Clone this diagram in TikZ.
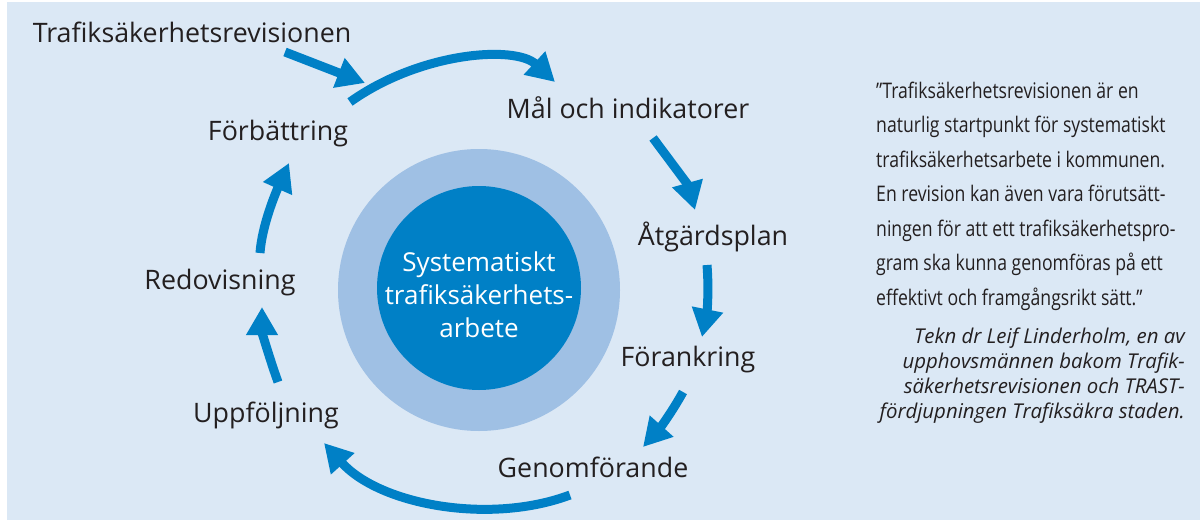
\documentclass[tikz,border=0pt]{standalone}
\usepackage{fontspec}
\setmainfont{Open Sans}
\newfontfamily\condfont[FakeStretch=0.82]{Open Sans}
\usetikzlibrary{arrows.meta}
\definecolor{bg}{HTML}{DBE8F5}
\definecolor{ring}{HTML}{9FC0E4}
\definecolor{core}{HTML}{0080C6}
\definecolor{arr}{HTML}{0080C6}
\definecolor{txt}{HTML}{231F20}
\begin{document}
\begin{tikzpicture}[x=1pt,y=-1pt,
  lbl/.style={font=\fontsize{26.8}{32}\selectfont, text=txt, inner sep=0pt},
  flow/.style={draw=arr, line width=9pt, -{Triangle[length=28pt,width=30pt]}},
  quotetext/.style={font=\condfont\fontsize{21.5}{34.5}\selectfont, text=txt, anchor=west, align=left, inner sep=0pt},
  attrtext/.style={font=\itshape\fontsize{20.4}{25}\selectfont, text=txt, anchor=east, align=right, inner sep=0pt}]
\useasboundingbox (0,0) rectangle (1200,522);
\fill[bg] (7,2) rectangle (1200,520);
% circles
\fill[ring] (479,290) circle (141);
\node[circle, fill=core, minimum size=204pt, inner sep=0pt] (core) at (479,288) {};
\node[font=\fontsize{26}{33}\selectfont, text=white, align=center, inner sep=0pt] (coretext) at (479,295)
  {Systematiskt\\trafiksäkerhets-\\arbete};
% labels
\node[lbl] (trafik) at (192,32) {Trafiksäkerhetsrevisionen};
\node[lbl] (mal) at (628,108) {Mål och indikatorer};
\node[lbl] (atg) at (713,237) {Åtgärdsplan};
\node[lbl] (foran) at (688,360) {Förankring};
\node[lbl] (genom) at (593,467) {Genomförande};
\node[lbl] (uppf) at (266,415) {Uppföljning};
\node[lbl] (redov) at (220,283) {Redovisning};
\node[lbl] (forb) at (278,134) {Förbättring};
% arrow end points
\coordinate (a1s) at (285,52);  \coordinate (a1e) at (365,83);
\coordinate (a2s) at (350,102); \coordinate (a2e) at (555,82);
\coordinate (a3s) at (653,138); \coordinate (a3e) at (695,210);
\coordinate (a4s) at (707,265); \coordinate (a4e) at (702,337);
\coordinate (a5s) at (683,392); \coordinate (a5e) at (643,447);
\coordinate (a6s) at (570,495); \coordinate (a6e) at (324,443);
\coordinate (a7s) at (278,382); \coordinate (a7e) at (262,307);
\coordinate (a8s) at (260,253); \coordinate (a8e) at (289,163);
\draw[flow] (a1s) -- (a1e);
\draw[flow] (a2s) .. controls (420,52) and (515,45) .. (a2e);
\draw[flow] (a3s) .. controls (668,158) and (688,185) .. (a3e);
\draw[flow] (a4s) .. controls (709,290) and (707,312) .. (a4e);
\draw[flow] (a5s) .. controls (672,412) and (660,428) .. (a5e);
\draw[flow] (a6s) .. controls (490,525) and (380,505) .. (a6e);
\draw[flow] (a7s) .. controls (270,360) and (262,332) .. (a7e);
\draw[flow] (a8s) .. controls (262,225) and (276,192) .. (a8e);
% quote
\node[quotetext] (quote) at (876,196)
  {”Trafiksäkerhetsrevisionen är en\\
   naturlig startpunkt för systematiskt\\
   trafiksäkerhetsarbete i kommunen.\\
   En revision kan även vara förutsätt-\\
   ningen för att ett trafiksäkerhetspro-\\
   gram ska kunna genomföras på ett\\
   effektivt och framgångsrikt sätt.”};
\node[attrtext] (attr) at (1185,376)
  {Tekn dr Leif Linderholm, en av\\
   upphovsmännen bakom Trafik-\\
   säkerhetsrevisionen och TRAST-\\
   fördjupningen Trafiksäkra staden.};
\end{tikzpicture}
\end{document}
